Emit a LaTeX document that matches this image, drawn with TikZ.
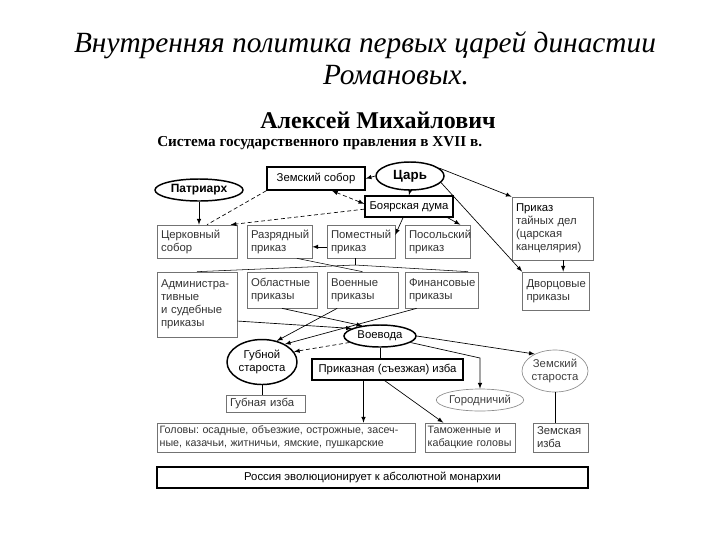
\documentclass[tikz,border=0pt]{standalone}
\usepackage{fontspec}
\setmainfont{Liberation Serif}
\setsansfont{Liberation Sans}
\usetikzlibrary{shapes.geometric}
\frenchspacing
\tikzset{
  plainbox/.style  = {shape=rectangle, draw=black!55, line width=0.5pt,
                      align=left, inner xsep=3pt, inner ysep=1pt, text=black!80},
  mainbox/.style   = {plainbox, draw=black, line width=1.1pt, text=black, align=center},
  plainoval/.style = {ellipse, draw=black!45, line width=0.5pt, inner sep=0pt,
                      align=center, text=black!75},
  mainoval/.style  = {plainoval, draw=black, line width=1.1pt, text=black},
  arr/.style       = {-latex, line width=0.5pt},
  dsh/.style       = {densely dashed, line width=0.5pt},
  smalltext/.style = {font=\sffamily\fontsize{8}{9.6}\selectfont}
}

\begin{document}
\begin{tikzpicture}
        [
            x = 0.75pt, y = -0.75pt,
            every node/.style = {font=\sffamily\fontsize{8.5}{9.8}\selectfont}
        ]
    \useasboundingbox (0,0) rectangle (720,540);

    % headings
    \node (title1) at (365,45) [font=\rmfamily\itshape\fontsize{22}{26}\selectfont]
        {Внутренняя политика первых царей династии};
    \node (title2) at (396,75) [font=\rmfamily\itshape\fontsize{22}{26}\selectfont]
        {Романовых.};
    \node (tsarname) at (378,120) [font=\rmfamily\bfseries\fontsize{18}{21}\selectfont]
        {Алексей Михайлович};
    \node (caption) at (157,143) [anchor=west, inner xsep=0pt,
        font=\rmfamily\bfseries\fontsize{11.4}{13}\selectfont]
        {Система государственного правления в XVII в.};

    % upper part
    \node (tsar) at (410,176) [mainoval, minimum width=51pt, minimum height=21pt,
        font=\sffamily\bfseries\fontsize{10}{12}\selectfont] {Царь};
    \node (patr) at (199,190) [mainoval, minimum width=66pt, minimum height=16.5pt,
        font=\sffamily\bfseries\fontsize{9}{11}\selectfont] {Патриарх};
    \node (zsob) at (316,178.5) [mainbox, minimum width=73.5pt, minimum height=17.25pt]
        {Земский собор};
    \node (bduma) at (409,206.5) [mainbox, minimum width=66pt, minimum height=15.75pt]
        {Боярская дума};
    \node (tainye) at (552.5,228.5) [plainbox, text width=54.75pt, minimum height=47.25pt]
        {{\color{black}Приказ}\\тайных дел\\(царская\\канцелярия)};

    \node (tserk) at (197,241.5) [plainbox, text width=54pt, minimum height=24.75pt]
        {Церковный\\собор};
    \node (razr) at (279.5,241.5) [plainbox, text width=42.75pt, minimum height=24.75pt]
        {Разрядный\\приказ};
    \node (pomest) at (361,241.5) [plainbox, text width=45pt, minimum height=24.75pt]
        {Поместный\\приказ};
    \node (posol) at (437.5,241.5) [plainbox, text width=42.75pt, minimum height=24.75pt]
        {Посольский\\приказ};

    \node (admin) at (197,304.5) [plainbox, text width=54pt, minimum height=48.75pt]
        {Администра-\\тивные\\и судебные\\приказы};
    \node (oblast) at (282,290) [plainbox, text width=46.5pt, minimum height=27pt]
        {Областные\\приказы};
    \node (voen) at (362.5,290) [plainbox, text width=47.25pt, minimum height=27pt]
        {Военные\\приказы};
    \node (finan) at (441.5,290) [plainbox, text width=48.75pt, minimum height=27pt]
        {Финансовые\\приказы};
    \node (dvorts) at (556,291) [plainbox, text width=44.25pt, minimum height=28.5pt]
        {Дворцовые\\приказы};

    % local government
    \node (voevoda) at (380,336) [mainoval, minimum width=54pt, minimum height=16.5pt]
        {Воевода};
    \node (gubst) at (262,362) [mainoval, minimum width=52.5pt, minimum height=33.75pt]
        {Губной\\староста};
    \node (prikizba) at (387.5,369.5) [mainbox, minimum width=113.25pt, minimum height=15.75pt]
        {Приказная (съезжая) изба};
    \node (zemst) at (555,371) [plainoval, minimum width=49.5pt, minimum height=31.5pt]
        {Земский\\староста};
    \node (gorod) at (480,400) [plainoval, minimum width=60pt, minimum height=16.5pt]
        {Городничий};
    \node (gubizba) at (265.5,403.5) [plainbox, text width=53.25pt, minimum height=12.75pt]
        {Губная изба};

    \node (golovy) at (286,437.5) [plainbox, smalltext, inner xsep=2pt,
        text width=189.5pt, minimum height=21.75pt]
        {Головы: осадные, объезжие, острожные, засеч-\\ные, казачьи, житничьи, ямские, пушкарские};
    \node (tamozh) at (470,437.5) [plainbox, smalltext, inner xsep=2pt,
        text width=63.5pt, minimum height=21.75pt]
        {Таможенные и\\кабацкие головы};
    \node (zemizba) at (560.5,437.5) [plainbox, text width=35.25pt, minimum height=21.75pt]
        {Земская\\изба};

    \node (rossia) at (372.5,477.5) [mainbox, minimum width=323.25pt, minimum height=15.75pt]
        {Россия эволюционирует к абсолютной монархии};

    % connectors, upper part
    \draw [arr] (tsar.west) -- (zsob.east);
    \draw [arr] (tsar.south) -- (bduma.north);
    \draw [arr] (tsar.15) -- (tainye.north west);
    \draw [arr] (tsar.-12) -- (dvorts.north west);
    \coordinate (tdx) at ([xshift=8pt]tainye.south);
    \draw [arr] (tdx) -- (tdx |- dvorts.north);
    \draw [arr] (patr.south) -- (patr.south |- tserk.north);
    \draw [dsh] (zsob.south west) -- ([xshift=7.5pt]tserk.north);
    \draw [dsh, latex-latex] ([xshift=12pt]zsob.south) -- ([yshift=2pt]bduma.west);
    \draw [dsh, -latex] ([yshift=-2pt]bduma.west) -- ([xshift=-5pt]tserk.north east);
    \draw [arr] ([xshift=-4.5pt]bduma.south) -- ([yshift=5pt]pomest.east);
    \draw [arr] ([xshift=-4.5pt]bduma.south east) -- ([xshift=-7.5pt]posol.north east);
    \draw [arr] ([yshift=-4pt]pomest.west) -- ([yshift=-4pt]razr.east);

    % crossing lines between the rows of prikazy
    \coordinate (hub) at ([xshift=-4.5pt,yshift=-5pt]pomest.south);
    \draw ([xshift=-4.5pt]pomest.south) -- (hub);
    \draw (hub) -- (admin.north);
    \draw (hub) -- ([xshift=20pt]finan.north);
    \draw ([xshift=13pt]razr.south) -- (voen.north);

    % connectors, lower part
    \draw [arr] ([yshift=-12.4pt]admin.east) -- (voevoda.165);
    \draw [arr] (oblast.south) -- (voevoda.150);
    \draw [arr] ([xshift=-19pt]voen.south) -- (gubst.55);
    \draw [arr] ([xshift=9pt]finan.south west) -- (gubst.38);
    \draw [dsh, -latex] (voevoda.192) -- (gubst.18);
    \draw [arr] (voevoda.east) -- (zemst.140);
    \draw [arr] (voevoda.-12) -- ([yshift=23pt]gorod.north) -- (gorod.north);
    \draw (voevoda.south) -- (voevoda.south |- prikizba.north);
    \coordinate (pa) at ([xshift=-18pt]prikizba.south);
    \draw [arr] (pa) -- (pa |- golovy.north);
    \draw [arr] ([xshift=-2pt]prikizba.south) -- ([xshift=-20pt]tamozh.north);
    \draw (gubst.south) -- (gubst.south |- gubizba.north);
    \draw (zemst.south) -- (zemst.south |- zemizba.north);

\end{tikzpicture}
\end{document}
